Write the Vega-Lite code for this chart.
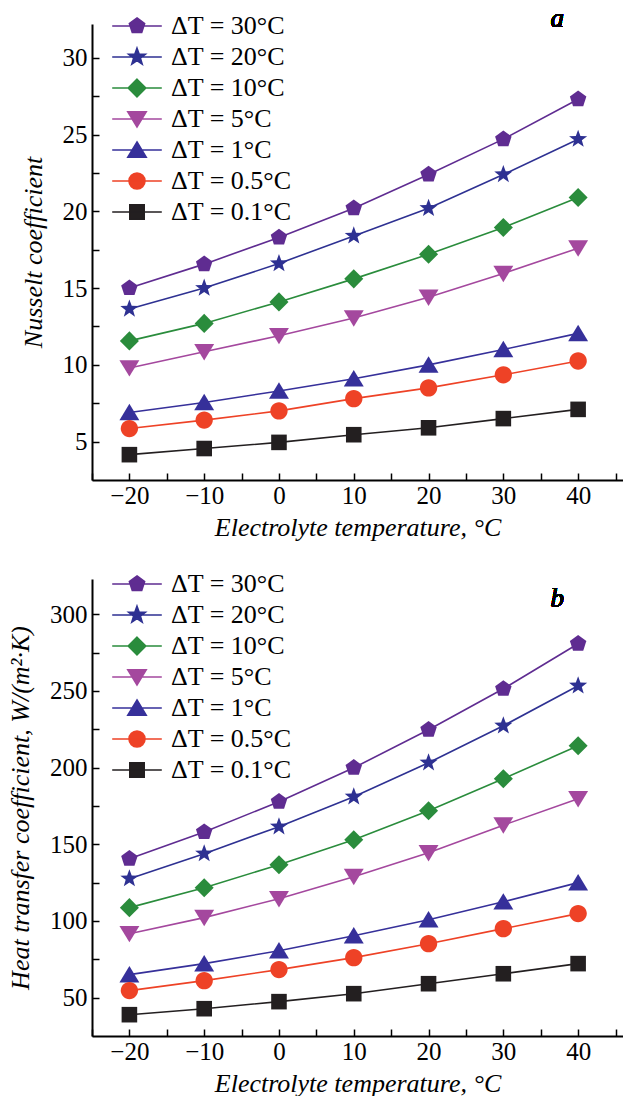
{
  "$schema": "https://vega.github.io/schema/vega-lite/v6.json",
  "background": "white",
  "padding": {"left": 7, "top": 5, "right": 0, "bottom": 0},
  "datasets": {
    "nu": [
      {"t": -20, "dT": "30", "v": 15.0}, {"t": -10, "dT": "30", "v": 16.56}, {"t": 0, "dT": "30", "v": 18.3}, {"t": 10, "dT": "30", "v": 20.2}, {"t": 20, "dT": "30", "v": 22.4}, {"t": 30, "dT": "30", "v": 24.7}, {"t": 40, "dT": "30", "v": 27.3},
      {"t": -20, "dT": "20", "v": 13.64}, {"t": -10, "dT": "20", "v": 15.0}, {"t": 0, "dT": "20", "v": 16.6}, {"t": 10, "dT": "20", "v": 18.4}, {"t": 20, "dT": "20", "v": 20.2}, {"t": 30, "dT": "20", "v": 22.4}, {"t": 40, "dT": "20", "v": 24.7},
      {"t": -20, "dT": "10", "v": 11.56}, {"t": -10, "dT": "10", "v": 12.7}, {"t": 0, "dT": "10", "v": 14.1}, {"t": 10, "dT": "10", "v": 15.6}, {"t": 20, "dT": "10", "v": 17.2}, {"t": 30, "dT": "10", "v": 18.95}, {"t": 40, "dT": "10", "v": 20.9},
      {"t": -20, "dT": "5", "v": 9.8}, {"t": -10, "dT": "5", "v": 10.85}, {"t": 0, "dT": "5", "v": 11.9}, {"t": 10, "dT": "5", "v": 13.05}, {"t": 20, "dT": "5", "v": 14.4}, {"t": 30, "dT": "5", "v": 15.95}, {"t": 40, "dT": "5", "v": 17.6},
      {"t": -20, "dT": "1", "v": 6.9}, {"t": -10, "dT": "1", "v": 7.55}, {"t": 0, "dT": "1", "v": 8.3}, {"t": 10, "dT": "1", "v": 9.1}, {"t": 20, "dT": "1", "v": 10.0}, {"t": 30, "dT": "1", "v": 11.0}, {"t": 40, "dT": "1", "v": 12.05},
      {"t": -20, "dT": "0.5", "v": 5.85}, {"t": -10, "dT": "0.5", "v": 6.4}, {"t": 0, "dT": "0.5", "v": 7.0}, {"t": 10, "dT": "0.5", "v": 7.8}, {"t": 20, "dT": "0.5", "v": 8.5}, {"t": 30, "dT": "0.5", "v": 9.35}, {"t": 40, "dT": "0.5", "v": 10.25},
      {"t": -20, "dT": "0.1", "v": 4.15}, {"t": -10, "dT": "0.1", "v": 4.55}, {"t": 0, "dT": "0.1", "v": 4.95}, {"t": 10, "dT": "0.1", "v": 5.45}, {"t": 20, "dT": "0.1", "v": 5.9}, {"t": 30, "dT": "0.1", "v": 6.5}, {"t": 40, "dT": "0.1", "v": 7.1}
    ],
    "htc": [
      {"t": -20, "dT": "30", "v": 140.6}, {"t": -10, "dT": "30", "v": 158.0}, {"t": 0, "dT": "30", "v": 177.8}, {"t": 10, "dT": "30", "v": 199.9}, {"t": 20, "dT": "30", "v": 224.7}, {"t": 30, "dT": "30", "v": 251.4}, {"t": 40, "dT": "30", "v": 280.8},
      {"t": -20, "dT": "20", "v": 127.6}, {"t": -10, "dT": "20", "v": 143.9}, {"t": 0, "dT": "20", "v": 161.5}, {"t": 10, "dT": "20", "v": 181.0}, {"t": 20, "dT": "20", "v": 203.2}, {"t": 30, "dT": "20", "v": 227.3}, {"t": 40, "dT": "20", "v": 253.4},
      {"t": -20, "dT": "10", "v": 108.7}, {"t": -10, "dT": "10", "v": 121.7}, {"t": 0, "dT": "10", "v": 136.7}, {"t": 10, "dT": "10", "v": 153.0}, {"t": 20, "dT": "10", "v": 171.9}, {"t": 30, "dT": "10", "v": 192.8}, {"t": 40, "dT": "10", "v": 214.3},
      {"t": -20, "dT": "5", "v": 91.7}, {"t": -10, "dT": "5", "v": 102.2}, {"t": 0, "dT": "5", "v": 114.5}, {"t": 10, "dT": "5", "v": 128.9}, {"t": 20, "dT": "5", "v": 144.5}, {"t": 30, "dT": "5", "v": 162.5}, {"t": 40, "dT": "5", "v": 179.7},
      {"t": -20, "dT": "1", "v": 65.0}, {"t": -10, "dT": "1", "v": 72.2}, {"t": 0, "dT": "1", "v": 80.6}, {"t": 10, "dT": "1", "v": 90.4}, {"t": 20, "dT": "1", "v": 100.8}, {"t": 30, "dT": "1", "v": 112.5}, {"t": 40, "dT": "1", "v": 125.0},
      {"t": -20, "dT": "0.5", "v": 54.6}, {"t": -10, "dT": "0.5", "v": 61.1}, {"t": 0, "dT": "0.5", "v": 68.3}, {"t": 10, "dT": "0.5", "v": 76.1}, {"t": 20, "dT": "0.5", "v": 85.2}, {"t": 30, "dT": "0.5", "v": 95.0}, {"t": 40, "dT": "0.5", "v": 104.8},
      {"t": -20, "dT": "0.1", "v": 38.9}, {"t": -10, "dT": "0.1", "v": 42.8}, {"t": 0, "dT": "0.1", "v": 47.4}, {"t": 10, "dT": "0.1", "v": 52.6}, {"t": 20, "dT": "0.1", "v": 59.1}, {"t": 30, "dT": "0.1", "v": 65.6}, {"t": 40, "dT": "0.1", "v": 72.2}
    ]
  },
  "config": {
    "view": {"stroke": null},
    "font": "Liberation Serif",
    "axis": {
      "grid": false,
      "domainColor": "black",
      "domainWidth": 2,
      "tickColor": "black",
      "tickWidth": 1.5,
      "tickSize": -7,
      "labelOverlap": false,
      "labelFlush": false,
      "labelFont": "Liberation Serif",
      "labelFontSize": 25,
      "labelColor": "black",
      "titleFont": "Liberation Serif",
      "titleFontSize": 26,
      "titleFontStyle": "italic",
      "titleFontWeight": "normal",
      "titleColor": "black"
    },
    "legend": {
      "orient": "none",
      "legendX": 18,
      "legendY": -11,
      "padding": 0,
      "title": null,
      "symbolSize": 256,
      "symbolOffset": 14,
      "labelOffset": 21,
      "rowPadding": 5,
      "symbolStrokeWidth": 1.6,
      "symbolOpacity": 1,
      "labelFont": "Liberation Serif",
      "labelFontSize": 26,
      "labelColor": "black",
      "labelLimit": 300
    }
  },
  "vconcat": [
    {
      "width": 531,
      "height": 456,
      "data": {"name": "nu"},
      "resolve": {"axis": {"x": "independent"}, "scale": {"shape": "independent", "fill": "independent", "stroke": "independent"}, "legend": {"shape": "independent", "fill": "independent", "stroke": "independent"}},
      "layer": [
        {
          "mark": {"type": "line", "strokeWidth": 1.6},
          "encoding": {
            "x": {"field": "t", "type": "quantitative", "scale": {"domain": [-25, 46], "nice": false, "zero": false},
              "axis": {"orient": "bottom", "title": "Electrolyte temperature, °C", "values": [-20, -10, 0, 10, 20, 30, 40], "labelPadding": 10, "titlePadding": 6}},
            "y": {"field": "v", "type": "quantitative", "scale": {"domain": [2.5, 32.2], "nice": false, "zero": false},
              "axis": {"title": "Nusselt coefficient", "values": [5, 7.5, 10, 12.5, 15, 17.5, 20, 22.5, 25, 27.5, 30], "labelExpr": "datum.value % 5 == 0 ? datum.label : ''", "labelPadding": 12, "titlePadding": 16}},
            "color": {"field": "dT", "type": "nominal", "legend": null,
              "scale": {"domain": ["30", "20", "10", "5", "1", "0.5", "0.1"], "range": ["#5F2C91", "#2E3192", "#2A8C3C", "#A4489E", "#36309A", "#EE4226", "#231F20"]}},
            "detail": {"field": "dT"}
          }
        },
        {
          "mark": {"type": "point", "filled": true, "opacity": 1, "size": 300},
          "encoding": {
            "x": {"field": "t", "type": "quantitative",
              "axis": {"orient": "bottom", "title": null, "values": [-25, -15, -5, 5, 15, 25, 35, 45], "labels": false, "domain": false}},
            "y": {"field": "v", "type": "quantitative"},
            "color": {"field": "dT", "type": "nominal", "legend": null},
            "shape": {"field": "dT", "type": "nominal", "legend": null,
              "scale": {"domain": ["30", "20", "10", "5", "1", "0.5", "0.1"], "range": [
                "M0,-1L0.951,-0.309L0.588,0.809L-0.588,0.809L-0.951,-0.309Z",
                "M0,-1.1L0.265,-0.364L1.046,-0.34L0.428,0.139L0.647,0.89L0,0.45L-0.647,0.89L-0.428,0.139L-1.046,-0.34L-0.265,-0.364Z",
                "M0,-1.1L1.1,0L0,1.1L-1.1,0Z",
                "M-1.15,-0.9L1.15,-0.9L0,1Z",
                "M0,-1L1.15,0.9L-1.15,0.9Z",
                "M1,0A1,1,0,1,1,-1,0A1,1,0,1,1,1,0Z",
                "M-0.9,-0.9L0.9,-0.9L0.9,0.9L-0.9,0.9Z"]}}
          }
        },
        {
          "transform": [{"filter": "datum.t > 999"}],
          "mark": {"type": "point", "filled": true, "size": 256, "strokeWidth": 1.6},
          "encoding": {
            "x": {"field": "t", "type": "quantitative", "axis": null},
            "y": {"field": "v", "type": "quantitative"},
            "fill": {"field": "dT", "type": "nominal",
              "scale": {"domain": ["30", "20", "10", "5", "1", "0.5", "0.1"], "range": ["#5F2C91", "#2E3192", "#2A8C3C", "#A4489E", "#36309A", "#EE4226", "#231F20"]},
              "legend": {"labelExpr": "'ΔT = ' + datum.label + '°C'", "symbolSize": 256, "symbolStrokeWidth": 1.6}},
            "stroke": {"field": "dT", "type": "nominal",
              "scale": {"domain": ["30", "20", "10", "5", "1", "0.5", "0.1"], "range": ["#5F2C91", "#2E3192", "#2A8C3C", "#A4489E", "#36309A", "#EE4226", "#231F20"]},
              "legend": {"labelExpr": "'ΔT = ' + datum.label + '°C'", "symbolSize": 256, "symbolStrokeWidth": 1.6}},
            "shape": {"field": "dT", "type": "nominal",
              "scale": {"domain": ["30", "20", "10", "5", "1", "0.5", "0.1"], "range": [
                "M-3.1,0L3.1,0M0,-1L0.951,-0.309L0.588,0.809L-0.588,0.809L-0.951,-0.309Z",
                "M-3.1,0L3.1,0M0,-1.1L0.265,-0.364L1.046,-0.34L0.428,0.139L0.647,0.89L0,0.45L-0.647,0.89L-0.428,0.139L-1.046,-0.34L-0.265,-0.364Z",
                "M-3.1,0L3.1,0M0,-1.1L1.1,0L0,1.1L-1.1,0Z",
                "M-3.1,0L3.1,0M-1.15,-0.9L1.15,-0.9L0,1Z",
                "M-3.1,0L3.1,0M0,-1L1.15,0.9L-1.15,0.9Z",
                "M-3.1,0L3.1,0M1,0A1,1,0,1,1,-1,0A1,1,0,1,1,1,0Z",
                "M-3.1,0L3.1,0M-0.9,-0.9L0.9,-0.9L0.9,0.9L-0.9,0.9Z"]},
              "legend": {"labelExpr": "'ΔT = ' + datum.label + '°C'", "symbolSize": 256, "symbolStrokeWidth": 1.6}}
          }
        },
        {
          "mark": {"type": "text", "text": "a", "font": "Liberation Serif", "fontStyle": "italic", "fontWeight": "normal", "fontSize": 27, "fill": "black"},
          "encoding": {"x": {"datum": 37.2, "axis": null}, "y": {"datum": 32.5}}
        }
      ]
    },
    {
      "width": 531,
      "height": 457,
      "data": {"name": "htc"},
      "resolve": {"axis": {"x": "independent"}, "scale": {"shape": "independent", "fill": "independent", "stroke": "independent"}, "legend": {"shape": "independent", "fill": "independent", "stroke": "independent"}},
      "layer": [
        {
          "mark": {"type": "line", "strokeWidth": 1.6},
          "encoding": {
            "x": {"field": "t", "type": "quantitative", "scale": {"domain": [-25, 46], "nice": false, "zero": false},
              "axis": {"orient": "bottom", "title": "Electrolyte temperature, °C", "values": [-20, -10, 0, 10, 20, 30, 40], "labelPadding": 10, "titlePadding": 6}},
            "y": {"field": "v", "type": "quantitative", "scale": {"domain": [25, 323], "nice": false, "zero": false},
              "axis": {"title": "Heat transfer coefficient, W/(m²·K)", "values": [50, 75, 100, 125, 150, 175, 200, 225, 250, 275, 300], "labelExpr": "datum.value % 50 == 0 ? datum.label : ''", "labelPadding": 12, "titlePadding": 16}},
            "color": {"field": "dT", "type": "nominal", "legend": null,
              "scale": {"domain": ["30", "20", "10", "5", "1", "0.5", "0.1"], "range": ["#5F2C91", "#2E3192", "#2A8C3C", "#A4489E", "#36309A", "#EE4226", "#231F20"]}},
            "detail": {"field": "dT"}
          }
        },
        {
          "mark": {"type": "point", "filled": true, "opacity": 1, "size": 300},
          "encoding": {
            "x": {"field": "t", "type": "quantitative",
              "axis": {"orient": "bottom", "title": null, "values": [-25, -15, -5, 5, 15, 25, 35, 45], "labels": false, "domain": false}},
            "y": {"field": "v", "type": "quantitative"},
            "color": {"field": "dT", "type": "nominal", "legend": null},
            "shape": {"field": "dT", "type": "nominal", "legend": null,
              "scale": {"domain": ["30", "20", "10", "5", "1", "0.5", "0.1"], "range": [
                "M0,-1L0.951,-0.309L0.588,0.809L-0.588,0.809L-0.951,-0.309Z",
                "M0,-1.1L0.265,-0.364L1.046,-0.34L0.428,0.139L0.647,0.89L0,0.45L-0.647,0.89L-0.428,0.139L-1.046,-0.34L-0.265,-0.364Z",
                "M0,-1.1L1.1,0L0,1.1L-1.1,0Z",
                "M-1.15,-0.9L1.15,-0.9L0,1Z",
                "M0,-1L1.15,0.9L-1.15,0.9Z",
                "M1,0A1,1,0,1,1,-1,0A1,1,0,1,1,1,0Z",
                "M-0.9,-0.9L0.9,-0.9L0.9,0.9L-0.9,0.9Z"]}}
          }
        },
        {
          "transform": [{"filter": "datum.t > 999"}],
          "mark": {"type": "point", "filled": true, "size": 256, "strokeWidth": 1.6},
          "encoding": {
            "x": {"field": "t", "type": "quantitative", "axis": null},
            "y": {"field": "v", "type": "quantitative"},
            "fill": {"field": "dT", "type": "nominal",
              "scale": {"domain": ["30", "20", "10", "5", "1", "0.5", "0.1"], "range": ["#5F2C91", "#2E3192", "#2A8C3C", "#A4489E", "#36309A", "#EE4226", "#231F20"]},
              "legend": {"labelExpr": "'ΔT = ' + datum.label + '°C'", "legendY": -8, "symbolSize": 256, "symbolStrokeWidth": 1.6}},
            "stroke": {"field": "dT", "type": "nominal",
              "scale": {"domain": ["30", "20", "10", "5", "1", "0.5", "0.1"], "range": ["#5F2C91", "#2E3192", "#2A8C3C", "#A4489E", "#36309A", "#EE4226", "#231F20"]},
              "legend": {"labelExpr": "'ΔT = ' + datum.label + '°C'", "legendY": -8, "symbolSize": 256, "symbolStrokeWidth": 1.6}},
            "shape": {"field": "dT", "type": "nominal",
              "scale": {"domain": ["30", "20", "10", "5", "1", "0.5", "0.1"], "range": [
                "M-3.1,0L3.1,0M0,-1L0.951,-0.309L0.588,0.809L-0.588,0.809L-0.951,-0.309Z",
                "M-3.1,0L3.1,0M0,-1.1L0.265,-0.364L1.046,-0.34L0.428,0.139L0.647,0.89L0,0.45L-0.647,0.89L-0.428,0.139L-1.046,-0.34L-0.265,-0.364Z",
                "M-3.1,0L3.1,0M0,-1.1L1.1,0L0,1.1L-1.1,0Z",
                "M-3.1,0L3.1,0M-1.15,-0.9L1.15,-0.9L0,1Z",
                "M-3.1,0L3.1,0M0,-1L1.15,0.9L-1.15,0.9Z",
                "M-3.1,0L3.1,0M1,0A1,1,0,1,1,-1,0A1,1,0,1,1,1,0Z",
                "M-3.1,0L3.1,0M-0.9,-0.9L0.9,-0.9L0.9,0.9L-0.9,0.9Z"]},
              "legend": {"labelExpr": "'ΔT = ' + datum.label + '°C'", "legendY": -8, "symbolSize": 256, "symbolStrokeWidth": 1.6}}
          }
        },
        {
          "mark": {"type": "text", "text": "b", "font": "Liberation Serif", "fontStyle": "italic", "fontWeight": "normal", "fontSize": 27, "fill": "black"},
          "encoding": {"x": {"datum": 37.2, "axis": null}, "y": {"datum": 310}}
        }
      ]
    }
  ],
  "spacing": 99,
  "bounds": "flush",
  "resolve": {"scale": {"shape": "independent", "fill": "independent", "stroke": "independent"}, "legend": {"shape": "independent", "fill": "independent", "stroke": "independent"}}
}
